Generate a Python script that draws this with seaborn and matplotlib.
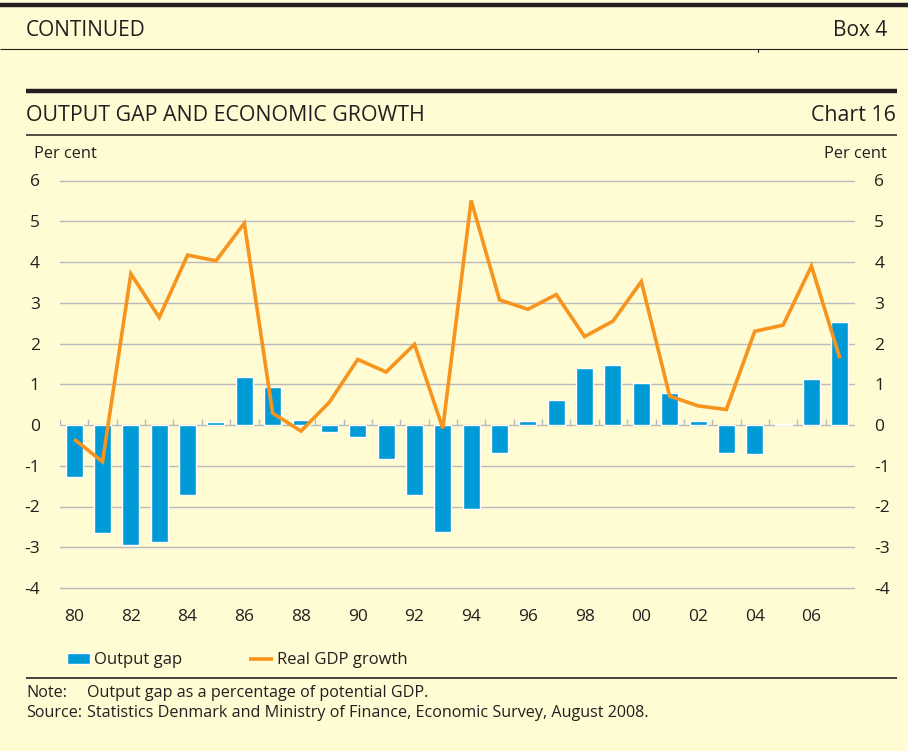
import numpy as np
import pandas as pd
import matplotlib
matplotlib.use("Agg")
import matplotlib.pyplot as plt
from matplotlib.lines import Line2D
import seaborn as sns

# data (per cent)
years = list(range(1980, 2008))
output_gap = [-1.27, -2.64, -2.95, -2.86, -1.73, 0.07, 1.18, 0.93, 0.12, -0.16,
              -0.29, -0.83, -1.73, -2.62, -2.05, -0.68, 0.10, 0.61, 1.40, 1.47,
              1.03, 0.79, 0.10, -0.68, -0.70, 0.03, 1.13, 2.53]
gdp_growth = [-0.35, -0.90, 3.71, 2.64, 4.17, 4.03, 4.95, 0.29, -0.15, 0.56,
              1.61, 1.30, 1.98, -0.08, 5.51, 3.07, 2.84, 3.20, 2.17, 2.55,
              3.52, 0.71, 0.47, 0.38, 2.30, 2.45, 3.90, 1.64]
tick_years = list(range(1980, 2007, 2))
tick_labels = [f"{y % 100:02d}" for y in tick_years]
y_ticks = list(range(-4, 7))

df = pd.DataFrame({"year": years, "gap": output_gap, "growth": gdp_growth})

BG = "#FFFBD2"
BLUE = "#009AD6"
ORANGE = "#F7941D"
INK = "#231F20"
GRID = "#B9B9C0"

sns.set_theme(style="white")
plt.rcParams['font.family'] = ['Open Sans', 'DejaVu Sans']
plt.rcParams['text.color'] = INK

W, H = 908, 751
fig = plt.figure(figsize=(W / 100, H / 100), dpi=100, facecolor=BG)
ax = fig.add_axes([60 / W, 1 - 588 / H, (854 - 60) / W, (588 - 180.5) / H])
ax.set_facecolor(BG)

sns.barplot(data=df, x="year", y="gap", native_scale=True, width=0.6,
            color=BLUE, saturation=1, errorbar=None, ax=ax,
            label="Output gap", zorder=2)
sns.lineplot(data=df, x="year", y="growth", color=ORANGE, linewidth=2.6,
             ax=ax, label="Real GDP growth", zorder=3,
             solid_capstyle="butt", solid_joinstyle="miter")
if ax.get_legend() is not None:
    ax.get_legend().remove()

ax.set_xlim(1979.5, 2007.5)
ax.set_ylim(-4, 6)
ax.set_yticks(y_ticks)
ax.set_yticklabels([str(v) for v in y_ticks])
ax.set_xticks(tick_years)
ax.set_xticklabels(tick_labels)
ax.set_xlabel("")
ax.set_ylabel("")
for v in y_ticks:
    ax.axhline(v, color=GRID, linewidth=1.0, zorder=1, clip_on=False)
# small marks between the years on the zero line
edges = np.arange(years[0] - 0.5, years[-1] + 1, 1)
ax.vlines(edges, 0, 0.14, color=GRID, linewidth=1.0, zorder=1)

for s in ax.spines.values():
    s.set_visible(False)
ax.tick_params(axis="y", left=False, right=False, labelleft=True,
               labelright=True, pad=8.5, labelsize=12.5, labelcolor=INK)
ax.tick_params(axis="x", bottom=False, pad=9, labelsize=12.5, labelcolor=INK)
ax.grid(False)

# header / footer
def hline(x0, x1, y, lw):
    fig.add_artist(Line2D([x0 / W, x1 / W], [1 - y / H, 1 - y / H],
                          transform=fig.transFigure, color=INK, linewidth=lw,
                          solid_capstyle="butt"))

hline(0, W, 4.5, 3.2)
hline(0, W, 49.3, 0.8)
fig.add_artist(Line2D([758 / W, 758 / W], [1 - 49.3 / H, 1 - 52 / H],
                      transform=fig.transFigure, color=INK, linewidth=0.8))
hline(26, 897, 90.5, 3.2)
hline(26, 897, 135, 1.1)
hline(26, 897, 677.5, 1.2)

fig.text(26 / W, 1 - 36 / H, "CONTINUED", fontsize=15, va="baseline")
fig.text(887 / W, 1 - 36 / H, "Box 4", fontsize=15, va="baseline", ha="right")
fig.text(26 / W, 1 - 120.7 / H, "OUTPUT GAP AND ECONOMIC GROWTH", fontsize=15.4,
         va="baseline")
fig.text(896 / W, 1 - 120.7 / H, "Chart 16", fontsize=15.4, va="baseline",
         ha="right")
fig.text(34 / W, 1 - 158 / H, "Per cent", fontsize=11.8, va="baseline")
fig.text(887 / W, 1 - 158 / H, "Per cent", fontsize=11.8, va="baseline",
         ha="right")

fig.text(26 / W, 1 - 697 / H, "Note:", fontsize=11.6, va="baseline")
fig.text(87 / W, 1 - 697 / H, "Output gap as a percentage of potential GDP.",
         fontsize=11.6, va="baseline")
fig.text(26 / W, 1 - 717 / H, "Source:", fontsize=11.6, va="baseline")
fig.text(87 / W, 1 - 717 / H,
         "Statistics Denmark and Ministry of Finance, Economic Survey, August 2008.",
         fontsize=11.6, va="baseline")

handles, labels = ax.get_legend_handles_labels()
order = [labels.index("Output gap"), labels.index("Real GDP growth")]
fig.legend([handles[i] for i in order], [labels[i] for i in order],
           loc="center left",
           bbox_to_anchor=(67 / W, 1 - 660.5 / H), bbox_transform=fig.transFigure,
           ncol=2, frameon=False, fontsize=12, handlelength=1.4,
           handleheight=0.65, handletextpad=0.25, columnspacing=4.0,
           borderpad=0, borderaxespad=0)

fig.savefig("out.png", dpi=100, facecolor=BG)
